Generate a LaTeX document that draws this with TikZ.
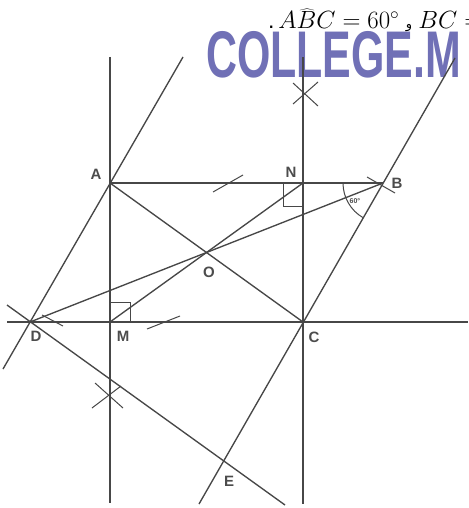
\documentclass[tikz,border=0pt]{standalone}
\usepackage{fontspec}
\setmainfont{Liberation Sans}
\newfontfamily\arabicfont[Script=Arabic]{DejaVu Sans}
\TeXXeTstate=1
\definecolor{wm}{RGB}{112,112,182}
\begin{document}
\begin{tikzpicture}[x=1pt,y=-1pt,
  ln/.style={line width=1.35pt, draw=black!72},
  mk/.style={line width=1pt, draw=black!72},
  lbl/.style={font=\bfseries\fontsize{15}{15}\selectfont, text=black!70, inner sep=0pt}]
\useasboundingbox (0,0) rectangle (468,508);
\clip (0,0) rectangle (468,508);
% watermark and heading
\node[anchor=north west, inner sep=0pt, text=wm] (wmk) at (206,31)
  {\scalebox{0.65}[1]{\fontsize{66}{66}\selectfont\bfseries COLLEGE.M}};
\node[anchor=base west, inner sep=0pt, font=\fontsize{23}{23}\selectfont] (hd) at (268,29)
  {.\,$\widehat{ABC}=60^\circ$ {\arabicfont\fontsize{13}{13}\selectfont\beginR و\endR} $BC=$};
% points
\coordinate (A) at (110,183);
\coordinate (N) at (303,183);
\coordinate (B) at (383,183);
\coordinate (D) at (30,322);
\coordinate (M) at (110,322);
\coordinate (C) at (303,322);
\coordinate (O) at (206.5,252.5);
\coordinate (E) at (223,461);
% line ends
\coordinate (v1t) at (110,57);  \coordinate (v1b) at (110,503);
\coordinate (v2t) at (303,57);  \coordinate (v2b) at (303,504);
\coordinate (hl) at (7,322);    \coordinate (hr) at (468,322);
\coordinate (adt) at (183,57);  \coordinate (adb) at (3,369);
\coordinate (bct) at (455,58);  \coordinate (bcb) at (199,504);
\coordinate (det) at (7,305);   \coordinate (deb) at (285,505);
% long lines
\draw[ln] (v1t) -- (v1b);
\draw[ln] (v2t) -- (v2b);
\draw[ln] (hl) -- (hr);
\draw[ln] (adt) -- (adb);
\draw[ln] (bct) -- (bcb);
\draw[ln] (det) -- (deb);
% segments
\draw[ln] (A) -- (B);
\draw[ln] (A) -- (C);
\draw[ln] (D) -- (B);
\draw[ln] (M) -- (N);
% right angles
\draw[mk] (283,183) -- (283,206) -- (303,206);
\draw[mk] (110,302) -- (130,302) -- (130,322);
% angle at B
\draw[mk] (B) ++(180:40) arc[start angle=180, end angle=120, radius=40];
\node[font=\bfseries\fontsize{7}{7}\selectfont, text=black!70, inner sep=0pt] (ang) at (355,201) {60°};
% compass marks
\draw[mk] (293,83) -- (318,106);
\draw[mk] (293,104) -- (318,82);
\draw[mk] (95,383) -- (123,408);
\draw[mk] (92,408) -- (121,386);
\draw[mk] (367,177) -- (395,193);
\draw[mk] (213,192) -- (243,175);
\draw[mk] (42,315) -- (63,326);
\draw[mk] (147,329) -- (180,316);
% labels
\node[lbl] (lA) at (96,174) {A};
\node[lbl] (lN) at (291,172) {N};
\node[lbl] (lB) at (397,183) {B};
\node[lbl] (lO) at (209,272) {O};
\node[lbl] (lD) at (36,336) {D};
\node[lbl] (lM) at (123,336) {M};
\node[lbl] (lC) at (314,337) {C};
\node[lbl] (lE) at (229,481) {E};
\end{tikzpicture}
\end{document}
